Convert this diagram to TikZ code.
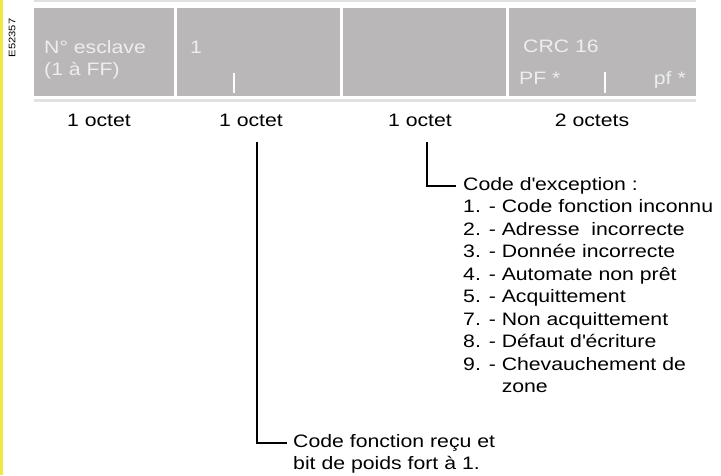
\documentclass[tikz,border=0pt]{standalone}
\usepackage{fontspec}
\setmainfont{Liberation Sans}[FakeStretch=1.18]
\usetikzlibrary{positioning,calc}
\definecolor{cellgray}{RGB}{185,183,184}
\definecolor{bargray}{RGB}{225,225,225}
\definecolor{celltext}{RGB}{238,238,238}
\definecolor{markyellow}{RGB}{240,232,66}

\begin{document}
\begin{tikzpicture}[x=1pt, y=-1pt,
    every node/.style={font=\fontsize{18}{22.5}\selectfont, inner sep=0pt},
    cell/.style={fill=cellgray, anchor=north west, minimum height=88pt},
    celltxt/.style={text=celltext, anchor=base west},
    tickmark/.style={draw=white, line width=1.6pt},
    leader/.style={draw=black, line width=1.6pt}]
    \useasboundingbox (0,0) rectangle (721,475);
    % margin strip and reference
    \fill[markyellow] (0,0) rectangle (3,475);
    \node[rotate=90, font=\fontsize{9.5}{11}\selectfont] (ref) at (12,38) {E52357};
    % frame bars
    \fill[bargray] (34,0) rectangle (696,2);
    \fill[bargray] (34,99) rectangle (696,102);
    % --- the four fields ---
    \node[cell, minimum width=140pt] (slave) at (34,8) {};
    \node[cell, minimum width=163pt] (func) at (177,8) {};
    \node[cell, minimum width=163pt] (data) at (343,8) {};
    \node[cell, minimum width=187pt] (crc) at (509,8) {};
    \node[celltxt] (slavetxt) at (44,53) {N° esclave};
    \node[celltxt] (slaverange) at (44,75.5) {(1 à FF)};
    \node[celltxt] (functxt) at (190,53) {1};
    \node[celltxt] (crctxt) at (523,52) {CRC 16};
    \node[celltxt] (pfhigh) at (519,84) {PF *};
    \node[celltxt, anchor=base east] (pflow) at (686,84) {pf *};
    \draw[tickmark] (234,73) -- (234,93);
    \draw[tickmark] (605,72) -- (605,93);
    % byte counts
    \node[anchor=base] (oct1) at (99,126) {1 octet};
    \node[anchor=base] (oct2) at (251,126) {1 octet};
    \node[anchor=base] (oct3) at (420,126) {1 octet};
    \node[anchor=base] (oct4) at (592,126) {2 octets};
    % --- leaders to the notes ---
    \coordinate (functop) at (257,142);
    \coordinate (datatop) at (427,142);
    \node[anchor=base west] (funcnote) at (293,447)
      {\begin{tabular}[t]{@{}l@{}}Code fonction reçu et\\bit de poids fort à 1.\end{tabular}};
    \node[anchor=base west] (excnote) at (463,190)
      {\begin{tabular}[t]{@{}l@{\ }l@{}}
        \multicolumn{2}{@{}l@{}}{Code d\textquotesingle exception :}\\
        1. - & Code fonction inconnu\\
        2. - & Adresse\ \ incorrecte\\
        3. - & Donnée incorrecte\\
        4. - & Automate non prêt\\
        5. - & Acquittement\\
        7. - & Non acquittement\\
        8. - & Défaut d\textquotesingle écriture\\
        9. - & Chevauchement de\\
             & zone
      \end{tabular}};
    \draw[leader] (functop) |- ($(funcnote.base west)+(-6,-4)$);
    \draw[leader] (datatop) |- ($(excnote.base west)+(-7,-4)$);
  \end{tikzpicture}
\end{document}
